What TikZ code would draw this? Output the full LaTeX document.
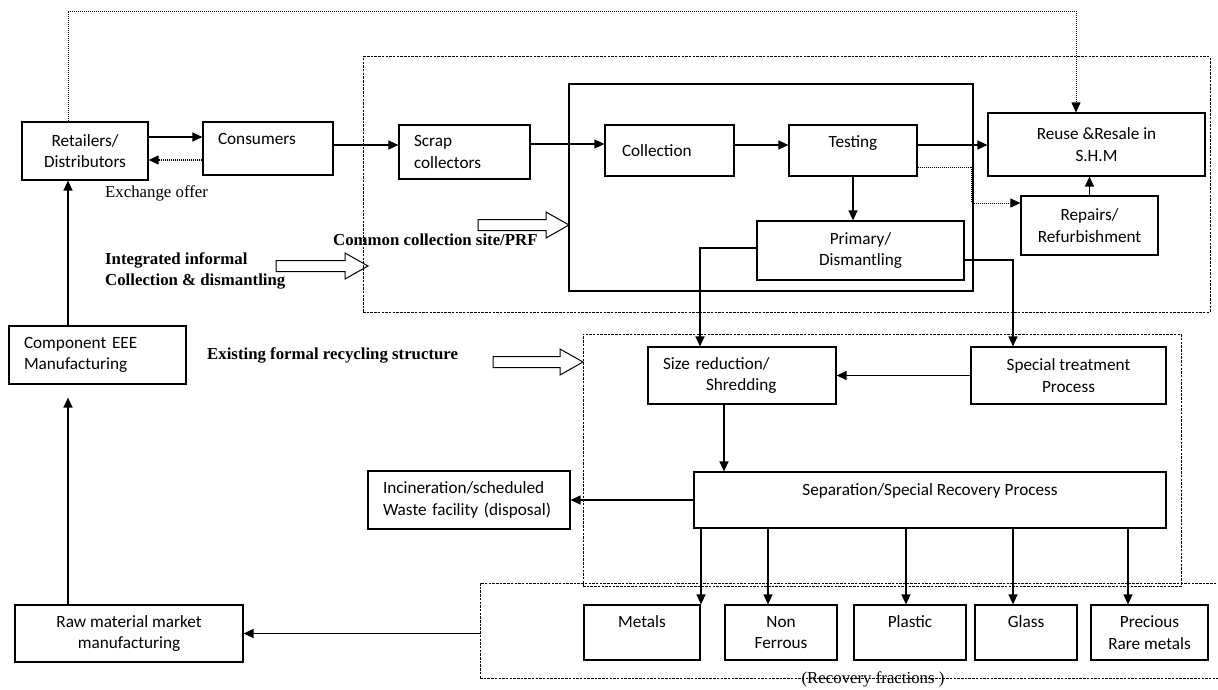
\documentclass[tikz,border=0pt]{standalone}
\usepackage{fontspec}
\setmainfont{Carlito}
\newfontfamily\tnr{Liberation Serif}
\usetikzlibrary{arrows.meta}
\newcommand\hollowarr[3]{\draw[harrow] (#1,#3+5.5) -- (#2-23,#3+5.5) -- (#2-23,#3+13) -- (#2,#3) -- (#2-23,#3-13) -- (#2-23,#3-5.5) -- (#1,#3-5.5) -- cycle;}
\begin{document}
\begin{tikzpicture}[x=1pt,y=-1pt,
  box/.style={draw, line width=1.2pt, inner sep=0pt, font=\fontsize{17.2}{21.5}\selectfont, align=center},
  arr/.style={line width=1.3pt, -{Triangle[length=10pt,width=9pt]}},
  dotarr/.style={line width=1pt, dash pattern=on 1pt off 1pt, -{Triangle[length=10pt,width=9pt]}},
  frame/.style={draw, line width=1pt, dash pattern=on 2.5pt off 1.2pt, inner sep=0pt},
  lbl/.style={font=\tnr\fontsize{16.8}{21.5}\selectfont, inner sep=0pt},
  blbl/.style={font=\tnr\bfseries\fontsize{16.8}{21.5}\selectfont, inner sep=0pt, align=left},
  harrow/.style={line width=1pt}
]
\clip (0,0) rectangle (1218,690);
\fill[white] (0,0) rectangle (1218,690);
% frames
\node[frame, minimum width=847, minimum height=255] (inf) at (786.5,184.5) {};
\node[draw, line width=1.2pt, minimum width=404, minimum height=207, inner sep=0pt] (site) at (771,187.5) {};
\node[frame, minimum width=598, minimum height=252] (formal) at (882,460) {};
\node[frame, minimum width=748, minimum height=95] (rec) at (854,630.5) {};
% boxes
\node[box, minimum width=126, minimum height=58] (ret) at (85,151) {Retailers/\\Distributors};
\node[box, minimum width=130, minimum height=53, align=left, text width=100] (con) at (268,148.5) {Consumers\\[-9pt]\strut};
\node[box, minimum width=131, minimum height=54, align=left, text width=101] (scr) at (464.5,152) {Scrap\\collectors};
\node[box, minimum width=129, minimum height=51, align=left, text width=95] (col) at (669.5,150.5) {Collection};
\node[box, minimum width=128, minimum height=51] (test) at (853,150.5) {Testing\\[-10pt]\strut};
\node[box, minimum width=217, minimum height=63] (reuse) at (1096.5,144.5) {Reuse \&Resale in\\S.H.M};
\node[box, minimum width=137, minimum height=59] (rep) at (1089.5,225.5) {Repairs/\\Refurbishment};
\node[box, minimum width=207, minimum height=59] (prim) at (860.5,250.5) {Primary/\\Dismantling};
\node[box, minimum width=188, minimum height=57, align=left, text width=158] (size) at (742,375.5) {Size reduction/\\\hspace*{43pt}Shredding};
\node[box, minimum width=195, minimum height=57] (spec) at (1068.5,375.5) {Special treatment\\Process};
\node[box, minimum width=472, minimum height=56] (sep) at (930,500) {Separation/Special Recovery Process\\[-8pt]\strut};
\node[box, minimum width=202, minimum height=58, align=left, text width=172] (inc) at (469,500) {Incineration/scheduled\\Waste facility (disposal)};
\node[box, minimum width=177, minimum height=58, align=left, text width=147] (comp) at (97.5,355) {Component EEE\\Manufacturing};
\node[box, minimum width=228, minimum height=57] (raw) at (129,633.5) {Raw material market\\manufacturing};
\node[box, minimum width=116, minimum height=55] (met) at (642,632.5) {Metals\\[-6pt]\strut};
\node[box, minimum width=112, minimum height=55] (nonf) at (781,632.5) {Non\\Ferrous};
\node[box, minimum width=112, minimum height=55] (plas) at (910,632.5) {Plastic\\[-6pt]\strut};
\node[box, minimum width=102, minimum height=55] (glass) at (1026,632.5) {Glass\\[-6pt]\strut};
\node[box, minimum width=117, minimum height=55] (prec) at (1149.5,632.5) {Precious\\Rare metals};
% labels
\node[lbl, anchor=west] (exch) at (105,193) {Exchange offer};
\node[blbl, anchor=west] (integ) at (105,271) {Integrated informal\\Collection \& dismantling};
\node[blbl, anchor=west] (common) at (333,240) {Common collection site/PRF};
\node[blbl, anchor=west] (exist) at (207,355) {Existing formal recycling structure};
\node[lbl] (recfr) at (873,679) {(Recovery fractions )};
% hollow arrows
\hollowarr{276}{368}{266}
\hollowarr{478}{569}{225}
\hollowarr{493}{583}{362}
% coordinates
\coordinate (rc) at ([yshift=14pt]ret.east);
\coordinate (cr2) at ([yshift=-9pt]ret.east);
\coordinate (cs) at ([yshift=3.5pt]con.east);
\coordinate (sc) at ([yshift=8pt]scr.east);
\coordinate (ct) at ([yshift=5.5pt]col.east);
\coordinate (tu) at ([yshift=5.5pt]test.east);
\coordinate (tr1) at ([yshift=-16.5pt]test.east);
\coordinate (tr2) at ([yshift=22.5pt]rep.west);
\coordinate (ps1) at ([yshift=2.5pt]prim.west);
\coordinate (ps2) at ([xshift=-42pt]size.north);
\coordinate (pp1) at ([yshift=-9.5pt]prim.east);
\coordinate (pp2) at ([xshift=-55.5pt]spec.north);
\coordinate (ss) at ([xshift=-18pt]size.south);
\coordinate (rw) at ([xshift=-61pt]raw.north);
\coordinate (cr) at ([xshift=-17pt]ret.south);
\coordinate (t1) at ([xshift=-17pt]ret.north);
\coordinate (t2) at ([xshift=-20.5pt]reuse.north);
\coordinate (fme) at ([xshift=-229pt]sep.south);
\coordinate (fnf) at ([xshift=-13pt]nonf.north);
\coordinate (fpl) at ([xshift=-4pt]plas.north);
\coordinate (fgl) at ([xshift=-13pt]glass.north);
\coordinate (fpr) at ([xshift=-21.5pt]prec.north);
% connectors
\draw[arr] (rc) -- (rc -| con.west);
\draw[dotarr] (cr2 -| con.west) -- (cr2);
\draw[arr] (cs) -- (cs -| scr.west);
\draw[arr] (sc) -- (sc -| col.west);
\draw[arr] (ct) -- (ct -| test.west);
\draw[arr] (tu) -- (tu -| reuse.west);
\draw[dotarr] (tr1) -- ++(54,0) |- (tr2);
\draw[arr] (rep.north) -- (rep.north |- reuse.south);
\draw[arr] (test.south) -- (test.south |- prim.north);
\draw[arr] (ps1) -| (ps2);
\draw[arr] (pp1) -| (pp2);
\draw[arr] (spec.west) -- (size.east);
\draw[arr] (ss) -- (ss |- sep.north);
\draw[arr] (sep.west) -- (inc.east);
\draw[arr] (fme) -- (fme |- met.north);
\draw[arr] (fnf |- sep.south) -- (fnf);
\draw[arr] (fpl |- sep.south) -- (fpl);
\draw[arr] (fgl |- sep.south) -- (fgl);
\draw[arr] (fpr |- sep.south) -- (fpr);
\draw[arr] (rec.west |- raw.east) -- (raw.east);
\draw[arr, shorten >=13pt] (rw) -- (rw |- comp.south);
\draw[arr] (cr |- comp.north) -- (cr);
\draw[dotarr] (t1) -- ++(0,-110) -| (t2);
\end{tikzpicture}
\end{document}
